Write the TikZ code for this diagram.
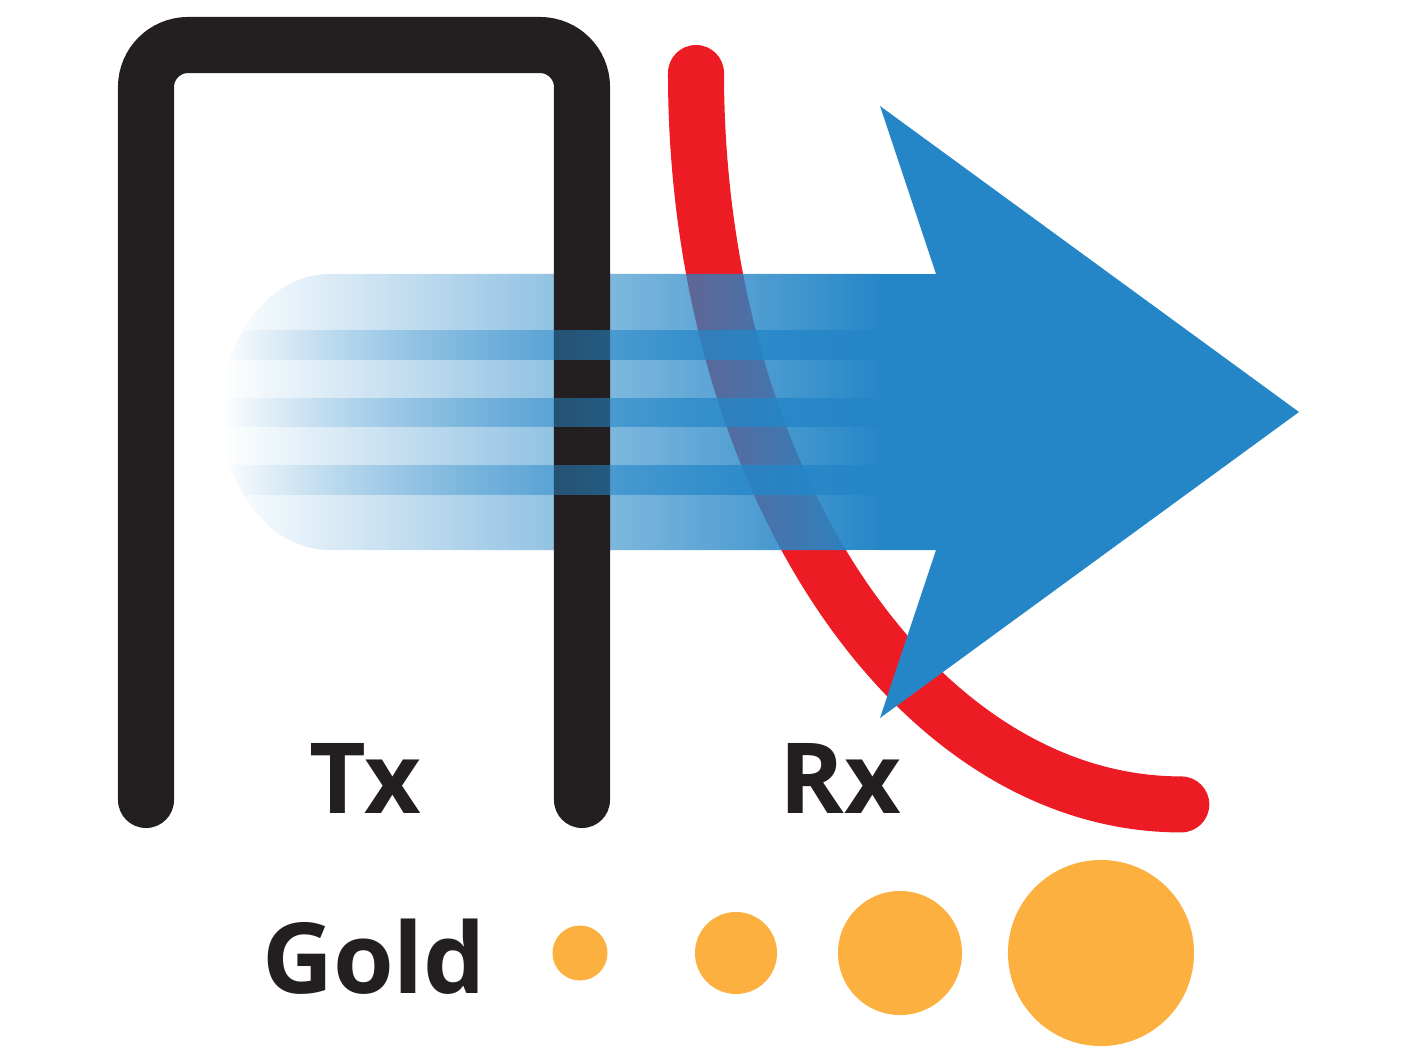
\documentclass[tikz,border=0pt]{standalone}
\usepackage{fontspec}
\newfontfamily\lblfont{Open Sans}
\usetikzlibrary{fadings}
\definecolor{ink}{HTML}{231F20}
\definecolor{wavered}{HTML}{ED1C24}
\definecolor{beamblue}{HTML}{2586C7}
\definecolor{gold}{HTML}{FBB040}
\tikzfading[name=shaftfade, left color=transparent!100, right color=transparent!0]
\tikzset{
  wire/.style={line width=5.6mm, line cap=round},
  lbl/.style={inner sep=0pt, text=ink, font=\lblfont\bfseries\fontsize{27.9}{34}\selectfont},
  goldball/.style={fill=gold, draw=none},
}
\begin{document}
\begin{tikzpicture}[x=0.01cm, y=-0.01cm]
\useasboundingbox (0,0) rectangle (1417,1063);
% red receiver curve
\draw[wire, wavered] (696,73) coordinate (rxtop)
  arc[start angle=180, end angle=270, x radius=4.85cm, y radius=7.31cm] coordinate (rxend);
% faded beam shaft
\path[fill=beamblue, path fading=shaftfade]
  (880,274) -- (330,274) arc[start angle=90, end angle=270, x radius=1.08cm, y radius=1.38cm]
  -- (880,550) -- cycle;
% black transmitter loop
\draw[wire, ink, rounded corners=4.2mm] (146,800) coordinate (txa) -- (146,45) -- (582,45) -- (582,800) coordinate (txb);
% stripes
\begin{scope}
  \clip (880,274) -- (330,274) arc[start angle=90, end angle=270, x radius=1.08cm, y radius=1.38cm]
  -- (880,550) -- cycle;
  \foreach \ya/\yb in {330/360, 398/427, 465/495}{
    \path[fill=beamblue, path fading=shaftfade] (222,\ya) rectangle (880,\yb);
  }
\end{scope}
% arrow head
\fill[beamblue] (879,274) -- (936,274) -- (880,106) -- (1299,412) -- (880,718) -- (936,550) -- (879,550) -- cycle;
% labels
\node[lbl, anchor=base] (tx) at (365,813) {Tx};
\node[lbl, anchor=base] (rx) at (840,813) {Rx};
\node[lbl, anchor=base] (goldlbl) at (374,993) {Gold};
% gold particles
\fill[goldball] (580,953) circle[radius=0.275cm];
\fill[goldball] (736,953) circle[radius=0.41cm];
\fill[goldball] (900,953) circle[radius=0.62cm];
\fill[goldball] (1101,953) circle[radius=0.93cm];
\end{tikzpicture}
\end{document}
